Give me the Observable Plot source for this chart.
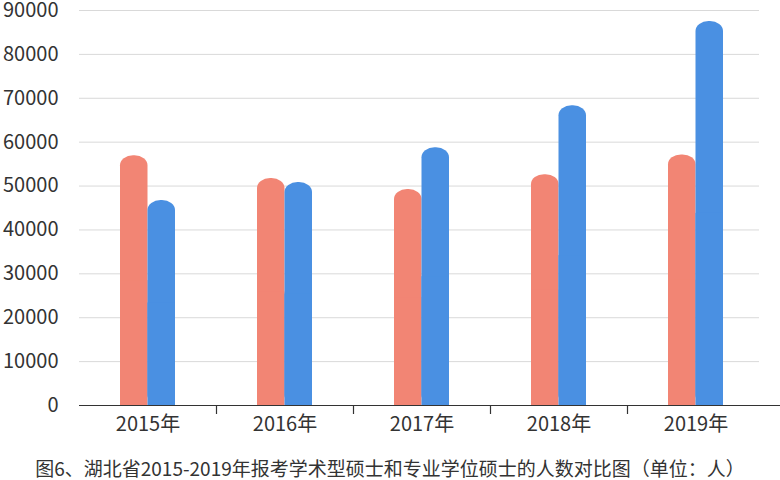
<!DOCTYPE html>
<html>
<head>
<meta charset="utf-8">
<script src="https://cdn.jsdelivr.net/npm/d3@7"></script>
<script src="https://cdn.jsdelivr.net/npm/@observablehq/plot@0.6"></script>
<style>
  html, body { margin: 0; padding: 0; background: #fff; }
  #caption { width: 780px; text-align: center; font-family: "Noto Sans CJK SC", sans-serif; font-size: 19px; color: #333; line-height: 46px; height: 35px; }
</style>
</head>
<body>
<div id="chart"></div>
<div id="caption">图6、湖北省2015-2019年报考学术型硕士和专业学位硕士的人数对比图（单位：人）</div>
<script>
const years = ["2015年", "2016年", "2017年", "2018年", "2019年"];
const academic = [56900, 51700, 49200, 52600, 57100];
const professional = [46700, 50800, 58700, 68300, 87500];
const yTicks = [0, 10000, 20000, 30000, 40000, 50000, 60000, 70000, 80000, 90000];

const red = "#F28574";
const blue = "#4A90E2";

const acadData = years.map((y, i) => ({year: y, value: academic[i]}));
const profData = years.map((y, i) => ({year: y, value: professional[i]}));

const font = "'Noto Sans CJK SC', sans-serif";

function roundedBars(data, fill, insetLeft, insetRight) {
  return [
    Plot.barY(data, {x: "year", y: "value", fill, insetLeft, insetRight, rx: 13, ry: 10}),
    Plot.barY(data, {x: "year", y1: 0, y2: d => d.value / 2, fill, insetLeft, insetRight})
  ];
}

const chart = Plot.plot({
  width: 780,
  height: 445,
  marginTop: 10,
  marginBottom: 40,
  marginLeft: 79,
  marginRight: 16,
  style: {fontFamily: font, background: "#fff"},
  x: {domain: years, padding: 0, axis: null, label: null},
  y: {domain: [0, 90000], axis: null, label: null},
  marks: [
    Plot.ruleY(yTicks.slice(1), {stroke: "#d9d9d9", strokeWidth: 1, insetRight: 5}),
    ...roundedBars(acadData, red, 41, 68.5),
    ...roundedBars(profData, blue, 68.5, 41),
    Plot.ruleY([0], {stroke: "#333", strokeWidth: 1.2, insetRight: -16}),
    Plot.axisY({ticks: yTicks, tickSize: 0, tickPadding: 21, fontSize: 20, color: "#333", label: null, tickFormat: d => String(d)}),
    Plot.axisX({ticks: years, tickSize: 0, tickPadding: 11, fontSize: 20, color: "#333", label: null}),
    Plot.axisX({ticks: years.slice(1), tickSize: 9, label: null, tickFormat: () => "", dx: -68.5, stroke: "#333", strokeWidth: 1.2})
  ]
});
document.getElementById("chart").appendChild(chart);
</script>
</body>
</html>
